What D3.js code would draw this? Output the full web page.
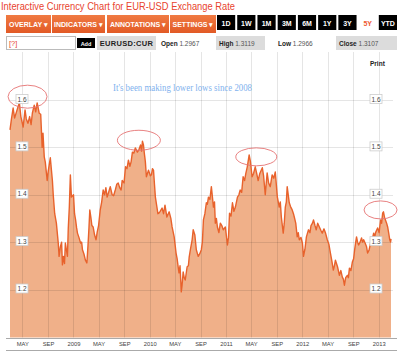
<!DOCTYPE html>
<html><head><meta charset="utf-8">
<script src="https://cdn.jsdelivr.net/npm/d3@7"></script>
<style>
body{margin:0;background:#fff;}
svg{display:block;font-family:"Liberation Sans",Arial,sans-serif;}
</style>
</head><body>
<svg id="c" width="400" height="353"></svg>
<script>
// ---------------- DATA ----------------
const dates = [
"2008-03-03","2008-03-10","2008-03-18","2008-03-25","2008-04-03","2008-04-10","2008-04-17","2008-04-24","2008-05-05","2008-05-14","2008-05-20","2008-05-28","2008-06-05","2008-06-12","2008-06-18","2008-06-27","2008-07-04","2008-07-11","2008-07-21","2008-07-28","2008-08-04","2008-08-08","2008-08-14","2008-08-19","2008-08-28","2008-09-02","2008-09-12","2008-09-22","2008-09-26","2008-10-03","2008-10-11","2008-10-20","2008-10-24","2008-10-30","2008-11-05","2008-11-09","2008-11-14","2008-11-19","2008-11-23","2008-12-03","2008-12-07","2008-12-12","2008-12-17","2008-12-22",
"2009-01-01","2009-01-06","2009-01-11","2009-01-16","2009-01-20","2009-01-27","2009-02-04","2009-02-09","2009-02-13","2009-02-20","2009-02-27","2009-03-06","2009-03-11","2009-03-16","2009-03-20","2009-03-25","2009-03-30","2009-04-05","2009-04-12","2009-04-19","2009-04-24","2009-05-01","2009-05-09","2009-05-16","2009-05-23","2009-05-30","2009-06-05","2009-06-11","2009-06-18","2009-06-26","2009-07-05","2009-07-12","2009-07-20","2009-07-27","2009-08-03","2009-08-10","2009-08-17","2009-08-22","2009-08-31","2009-09-07","2009-09-14","2009-09-21","2009-09-28","2009-10-04","2009-10-10","2009-10-17","2009-10-24","2009-11-03","2009-11-10","2009-11-18","2009-11-23","2009-11-27","2009-12-02","2009-12-06","2009-12-11","2009-12-16","2009-12-21","2009-12-26",
"2010-01-04","2010-01-09","2010-01-14","2010-01-19","2010-01-24","2010-01-28","2010-02-04","2010-02-09","2010-02-13","2010-02-20","2010-03-01","2010-03-08","2010-03-15","2010-03-24","2010-04-04","2010-04-12","2010-04-18","2010-04-28","2010-05-07","2010-05-12","2010-05-17","2010-05-21","2010-05-26","2010-06-01","2010-06-05","2010-06-10","2010-06-15","2010-06-20","2010-06-29","2010-07-05","2010-07-09","2010-07-15","2010-07-23","2010-07-28","2010-08-05","2010-08-12","2010-08-21","2010-08-28","2010-09-05","2010-09-10","2010-09-15","2010-09-22","2010-09-29","2010-10-04","2010-10-09","2010-10-16","2010-10-23","2010-11-02","2010-11-07","2010-11-11","2010-11-16","2010-11-21","2010-11-28","2010-12-05","2010-12-12","2010-12-19","2010-12-29",
"2011-01-08","2011-01-13","2011-01-18","2011-01-25","2011-02-01","2011-02-08","2011-02-15","2011-02-25","2011-03-04","2011-03-10","2011-03-17","2011-03-24","2011-03-31","2011-04-06","2011-04-13","2011-04-22","2011-04-28","2011-05-06","2011-05-13","2011-05-21","2011-05-28","2011-06-04","2011-06-12","2011-06-24","2011-06-30","2011-07-08","2011-07-17","2011-07-24","2011-08-01","2011-08-10","2011-08-18","2011-08-25","2011-09-04","2011-09-13","2011-09-18","2011-09-23","2011-10-02","2011-10-07","2011-10-12","2011-10-17","2011-10-21","2011-10-31","2011-11-06","2011-11-14","2011-11-20","2011-11-24","2011-12-01","2011-12-08","2011-12-13","2011-12-18","2011-12-26",
"2012-01-02","2012-01-07","2012-01-14","2012-01-21","2012-01-31","2012-02-07","2012-02-12","2012-02-19","2012-02-24","2012-03-02","2012-03-08","2012-03-15","2012-03-23","2012-03-30","2012-04-06","2012-04-14","2012-04-21","2012-04-30","2012-05-08","2012-05-15","2012-05-22","2012-05-29","2012-06-03","2012-06-08","2012-06-13","2012-06-18","2012-06-27","2012-07-04","2012-07-11","2012-07-16","2012-07-21","2012-07-27","2012-08-04","2012-08-09","2012-08-14","2012-08-21","2012-08-28","2012-09-03","2012-09-08","2012-09-13","2012-09-17","2012-09-22","2012-09-27","2012-10-04","2012-10-11","2012-10-16","2012-10-21","2012-10-28","2012-11-04","2012-11-09","2012-11-16","2012-11-23","2012-12-01","2012-12-08","2012-12-13","2012-12-17","2012-12-22","2012-12-27",
"2013-01-03","2013-01-10","2013-01-15","2013-01-20","2013-01-24","2013-01-29","2013-02-02","2013-02-08","2013-02-13","2013-02-18","2013-02-23","2013-02-27","2013-03-01"
];
const rates = [
1.537,1.560,1.583,1.562,1.575,1.585,1.594,1.565,1.543,1.579,1.560,1.551,1.565,1.548,1.572,1.589,1.575,1.594,1.572,1.570,1.500,1.530,1.480,1.469,1.430,1.450,1.478,1.430,1.400,1.360,1.340,1.298,1.270,1.290,1.300,1.252,1.270,1.255,1.298,1.270,1.330,1.374,1.442,1.395,
1.400,1.360,1.347,1.330,1.319,1.310,1.298,1.300,1.284,1.275,1.262,1.256,1.290,1.330,1.368,1.353,1.335,1.332,1.315,1.305,1.320,1.335,1.368,1.385,1.410,1.400,1.415,1.395,1.405,1.417,1.400,1.398,1.410,1.422,1.425,1.415,1.410,1.430,1.425,1.459,1.455,1.473,1.460,1.470,1.490,1.488,1.499,1.490,1.495,1.505,1.492,1.513,1.505,1.488,1.470,1.438,1.445,1.452,
1.440,1.442,1.455,1.452,1.420,1.395,1.375,1.360,1.361,1.365,1.372,1.360,1.378,1.353,1.364,1.350,1.332,1.311,1.277,1.265,1.248,1.235,1.250,1.195,1.210,1.237,1.225,1.220,1.248,1.250,1.269,1.285,1.305,1.326,1.315,1.284,1.270,1.275,1.284,1.300,1.347,1.360,1.383,1.380,1.395,1.390,1.417,1.374,1.385,1.340,1.350,1.332,1.320,1.340,1.335,1.326,1.332,
1.294,1.310,1.361,1.355,1.383,1.365,1.374,1.395,1.400,1.410,1.405,1.438,1.430,1.445,1.459,1.484,1.470,1.438,1.445,1.459,1.445,1.430,1.445,1.457,1.440,1.400,1.446,1.425,1.417,1.442,1.435,1.448,1.395,1.374,1.385,1.353,1.319,1.340,1.374,1.385,1.417,1.383,1.375,1.368,1.360,1.353,1.340,1.311,1.320,1.305,1.310,
1.298,1.270,1.285,1.311,1.326,1.320,1.335,1.340,1.347,1.335,1.326,1.340,1.332,1.325,1.319,1.328,1.320,1.305,1.295,1.277,1.260,1.241,1.250,1.262,1.255,1.248,1.230,1.240,1.226,1.222,1.209,1.225,1.230,1.225,1.245,1.240,1.258,1.265,1.284,1.300,1.311,1.300,1.294,1.300,1.309,1.300,1.305,1.298,1.290,1.277,1.283,1.298,1.305,1.319,1.310,1.320,1.325,1.330,
1.320,1.347,1.340,1.361,1.364,1.352,1.347,1.340,1.332,1.319,1.305,1.300,1.307
];
const yTicks = [1.2, 1.3, 1.4, 1.5, 1.6];
const xTickDates = ["2008-05-01","2008-09-01","2009-01-01","2009-05-01","2009-09-01","2010-01-01","2010-05-01","2010-09-01","2011-01-01","2011-05-01","2011-09-01","2012-01-01","2012-05-01","2012-09-01","2013-01-01"];
const xTickLabels = ["MAY","SEP","2009","MAY","SEP","2010","MAY","SEP","2011","MAY","SEP","2012","MAY","SEP","2013"];
const menuButtons = ["OVERLAY","INDICATORS","ANNOTATIONS","SETTINGS"];
const rangeButtons = ["1D","1W","1M","3M","6M","1Y","3Y","5Y","YTD"];
const selectedRange = "5Y";
const ticker = "EURUSD:CUR";
const quoteLabels = ["Open","High","Low","Close"];
const quoteValues = ["1.2967","1.3119","1.2966","1.3107"];
const titleText = "Interactive Currency Chart for EUR-USD Exchange Rate";
const noteText = "It's been making lower lows since 2008";
// highlighted peaks (date, value) circled on the chart
const peakDates = ["2008-05-14","2009-11-10","2011-05-26","2013-01-10"];
const peakValues = [1.607, 1.515, 1.480, 1.368];

// ---------------- LAYOUT ----------------
const svg = d3.select("#c");
const plotLeft = 10, plotRight = 391, plotTop = 52, plotBottom = 337.5;
const parse = d3.utcParse("%Y-%m-%d");
const series = dates.map((d, i) => ({date: parse(d), value: rates[i]}));

const x = d3.scaleUtc().domain(d3.extent(series, d => d.date)).range([plotLeft, plotRight]);
const y = d3.scaleLinear().domain([1.2, 1.6]).range([289.5, 100]);

// ---------- Header ----------
svg.append("text").attr("x", 1).attr("y", 10)
  .attr("font-size", 11).attr("fill", "#e8432e")
  .attr("textLength", 234).attr("lengthAdjust", "spacingAndGlyphs")
  .text(titleText);

const defs = svg.append("defs");
const og = defs.append("linearGradient").attr("id", "og").attr("x1", 0).attr("x2", 0).attr("y1", 0).attr("y2", 1);
og.append("stop").attr("offset", "0%").attr("stop-color", "#f07a42");
og.append("stop").attr("offset", "100%").attr("stop-color", "#e25a26");

const menuX = [6, 52, 107, 170];
const menuW = [45, 53, 62, 46];
const menu = svg.append("g");
menuButtons.forEach((b, i) => {
  menu.append("rect").attr("x", menuX[i]).attr("y", 15).attr("width", menuW[i]).attr("height", 18).attr("fill", "url(#og)");
  menu.append("text").attr("x", menuX[i] + menuW[i] / 2).attr("y", 26.5)
    .attr("text-anchor", "middle").attr("font-size", 7).attr("font-weight", "bold").attr("fill", "#fff")
    .text(b + " \u25BE");
});
const rangeX = d3.scaleBand().domain(rangeButtons).range([217, 397]).paddingInner(0.1);
rangeButtons.forEach(b => {
  const sel = b === selectedRange;
  menu.append("rect").attr("x", rangeX(b)).attr("y", 15).attr("width", rangeX.bandwidth()).attr("height", 15)
    .attr("fill", sel ? "#fff" : "#000");
  menu.append("text").attr("x", rangeX(b) + rangeX.bandwidth() / 2).attr("y", 25.5)
    .attr("text-anchor", "middle").attr("font-size", 7).attr("font-weight", "bold")
    .attr("fill", sel ? "#ef5a2f" : "#fff").text(b);
});

// input row
const row = svg.append("g");
row.append("rect").attr("x", 6.5).attr("y", 36.5).attr("width", 69).attr("height", 13).attr("fill", "#fff").attr("stroke", "#bbb");
row.append("text").attr("x", 9).attr("y", 46).attr("font-size", 7.5).attr("fill", "#e8432e").text("[?]");
row.append("rect").attr("x", 77).attr("y", 38).attr("width", 18).attr("height", 10).attr("fill", "#000");
row.append("text").attr("x", 86).attr("y", 45.5).attr("text-anchor", "middle").attr("font-size", 5.5).attr("font-weight", "bold").attr("fill", "#fff").text("Add");
row.append("rect").attr("x", 97).attr("y", 36).attr("width", 59).attr("height", 14).attr("fill", "#dcdcdc");
row.append("text").attr("x", 126.5).attr("y", 46).attr("text-anchor", "middle").attr("font-size", 7.5).attr("font-weight", "bold").attr("fill", "#222").attr("letter-spacing", 0.3).text(ticker);
const qBoxX = [158, 216, 275, 336];
const qBoxW = [56, 49, 58, 61];
const qBoxFill = [null, "#dcdcdc", null, "#dcdcdc"];
quoteLabels.forEach((l, i) => {
  if (qBoxFill[i]) row.append("rect").attr("x", qBoxX[i]).attr("y", 36).attr("width", qBoxW[i]).attr("height", 14).attr("fill", qBoxFill[i]);
  const t = row.append("text").attr("x", qBoxX[i] + 3).attr("y", 45.5).attr("font-size", 6.5).attr("fill", "#222");
  t.append("tspan").attr("font-weight", "bold").text(l + " ");
  t.append("tspan").attr("fill", "#555").text(quoteValues[i]);
});

// ---------- Chart ----------
const area = d3.area().x(d => x(d.date)).y0(plotBottom).y1(d => y(d.value));
const line = d3.line().x(d => x(d.date)).y(d => y(d.value));

svg.append("path").datum(series).attr("d", area).attr("fill", "#f0b089");

// grid
const grid = svg.append("g").attr("stroke", "rgba(0,0,0,0.10)").attr("stroke-width", 1);
xTickDates.forEach(d => {
  const xx = Math.round(x(parse(d))) + 0.5;
  grid.append("line").attr("x1", xx).attr("x2", xx).attr("y1", plotTop).attr("y2", plotBottom);
});
yTicks.forEach(t => {
  const yy = Math.round(y(t)) + 0.5;
  grid.append("line").attr("x1", plotLeft).attr("x2", 393).attr("y1", yy).attr("y2", yy);
});

svg.append("path").datum(series).attr("d", line).attr("fill", "none")
  .attr("stroke", "#e8622c").attr("stroke-width", 1.4).attr("stroke-linejoin", "round");

// y labels left and right
[22, 376].forEach(cx => {
  yTicks.forEach(t => {
    const yy = y(t) - 1;
    svg.append("rect").attr("x", cx - 6).attr("y", yy - 4.5).attr("width", 12).attr("height", 9)
      .attr("fill", "#fff").attr("stroke", "#ccc").attr("stroke-width", 0.8);
    svg.append("text").attr("x", cx).attr("y", yy + 2.5).attr("text-anchor", "middle")
      .attr("font-size", 6.5).attr("fill", "#444").text(t.toFixed(1));
  });
});

// x axis
svg.append("line").attr("x1", 6).attr("x2", 397).attr("y1", 338.5).attr("y2", 338.5).attr("stroke", "#aaa");
svg.append("line").attr("x1", 6).attr("x2", 397).attr("y1", 350.5).attr("y2", 350.5).attr("stroke", "#aaa");
const xAxis = d3.axisBottom(x).tickValues(xTickDates.map(parse))
  .tickFormat((d, i) => xTickLabels[i]).tickSize(0).tickPadding(3);
const gx = svg.append("g").attr("transform", `translate(0,${339})`).call(xAxis);
gx.select(".domain").remove();
gx.selectAll("text").attr("font-size", 5.8).attr("fill", "#444").attr("font-family", "Liberation Sans, Arial, sans-serif");

// Print
svg.append("text").attr("x", 370).attr("y", 66).attr("font-size", 6.5).attr("font-weight", "bold").attr("fill", "#222").text("Print");

// annotation text
svg.append("text").attr("x", 113).attr("y", 91).attr("font-family", "Liberation Serif, Times New Roman, serif")
  .attr("font-size", 9.5).attr("fill", "#7fb2ee").attr("textLength", 139).attr("lengthAdjust", "spacingAndGlyphs")
  .text(noteText);

// circled peaks
const ellRx = [19.5, 21.5, 20.5, 16.5];
const ellRy = [11.5, 10, 9, 9];
const ellDx = [2.5, 0, 0, 0];
peakDates.forEach((d, i) => {
  svg.append("ellipse").attr("cx", x(parse(d)) + ellDx[i]).attr("cy", y(peakValues[i]))
    .attr("rx", ellRx[i]).attr("ry", ellRy[i])
    .attr("fill", "none").attr("stroke", "#e57373").attr("stroke-width", 0.9);
});
</script>
</body></html>
